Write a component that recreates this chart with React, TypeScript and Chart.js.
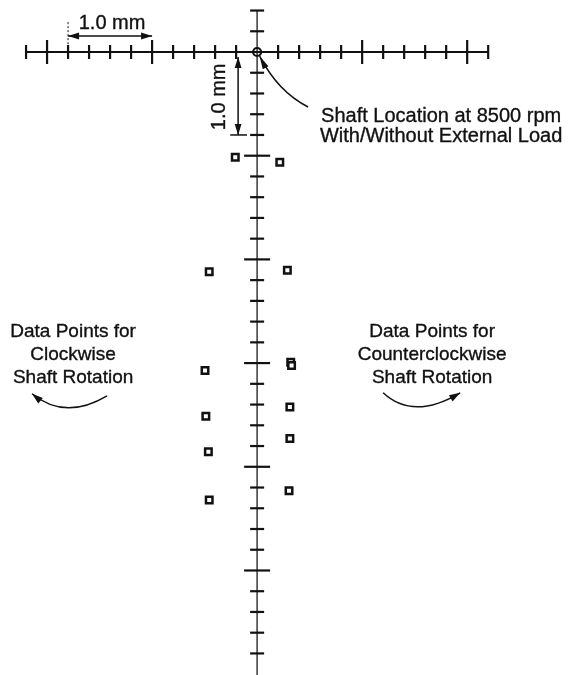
import React, { useEffect, useRef } from "react";
import { Chart, registerables } from "chart.js";

Chart.register(...registerables);

// Data points (mm, origin = shaft centre at rest, y negative = downward)
const cwX = [-0.26, -0.57, -0.62, -0.61, -0.58, -0.57];
const cwY = [-1.27, -2.65, -3.84, -4.39, -4.82, -5.40];
const ccwX = [0.27, 0.36, 0.40, 0.41, 0.39, 0.39, 0.38];
const ccwY = [-1.33, -2.63, -3.74, -3.78, -4.28, -4.66, -5.29];

// Axis ticks (mm)
const hMinorTicks = [-2.25, -2.0, -1.75, -1.5, -1.0, -0.75, -0.5, -0.25, 0.25, 0.5, 0.75, 1.0, 1.5, 1.75, 2.0, 2.25];
const hMajorTicks = [-2.5, -1.25, 1.25, 2.5];
const hEnds = [-2.75, 2.75];
const vMinorTicks = [0.25, -0.25, -0.5, -0.75, -1.0, -1.5, -1.75, -2.0, -2.25, -2.75, -3.0, -3.25, -3.5, -4.0, -4.25, -4.5, -4.75, -5.25, -5.5, -5.75, -6.0, -6.5, -6.75, -7.0, -7.25];
const vMajorTicks = [-1.25, -2.5, -3.75, -5.0, -6.25];
const vTop = 0.5;

const X_MIN = -3.06;
const X_MAX = 3.70;
const Y_MIN = -7.51;
const Y_MAX = 0.627;

const FONT_BIG = '20px "Liberation Sans", Arial, sans-serif';
const FONT = '19px "Liberation Sans", Arial, sans-serif';

const overlayPlugin = {
  id: "overlay",
  beforeDatasetsDraw(chart: any) {
    const ctx = chart.ctx;
    const xs = chart.scales.x;
    const ys = chart.scales.y;
    const px = (v: number) => xs.getPixelForValue(v);
    const py = (v: number) => ys.getPixelForValue(v);
    const ox = px(0);
    const oy = py(0);

    ctx.save();
    // vertical axis
    ctx.strokeStyle = "#444";
    ctx.lineWidth = 1.6;
    ctx.beginPath();
    ctx.moveTo(ox, py(vTop));
    ctx.lineTo(ox, py(Y_MIN));
    ctx.stroke();
    // horizontal axis
    ctx.strokeStyle = "#111";
    ctx.lineWidth = 2;
    ctx.beginPath();
    ctx.moveTo(px(hEnds[0]), oy);
    ctx.lineTo(px(hEnds[1]), oy);
    ctx.stroke();

    ctx.strokeStyle = "#111";
    ctx.lineWidth = 2.2;
    const hTick = (v: number, h: number) => {
      ctx.beginPath();
      ctx.moveTo(px(v), oy - h);
      ctx.lineTo(px(v), oy + h);
      ctx.stroke();
    };
    const vTick = (v: number, h: number) => {
      ctx.beginPath();
      ctx.moveTo(ox - h, py(v));
      ctx.lineTo(ox + h, py(v));
      ctx.stroke();
    };
    hMinorTicks.forEach((v) => hTick(v, 7));
    hMajorTicks.forEach((v) => hTick(v, 12));
    hEnds.forEach((v) => hTick(v, 7));
    vMinorTicks.forEach((v) => vTick(v, 7));
    vMajorTicks.forEach((v) => vTick(v, 13));
    vTick(vTop, 7);

    // origin circle
    ctx.lineWidth = 2.2;
    ctx.beginPath();
    ctx.arc(ox, oy, 4, 0, Math.PI * 2);
    ctx.stroke();

    const arrowHead = (tx: number, ty: number, ang: number, len = 11, hw = 3.4) => {
      ctx.beginPath();
      ctx.moveTo(tx, ty);
      ctx.lineTo(tx - len * Math.cos(ang) + hw * Math.sin(ang), ty - len * Math.sin(ang) - hw * Math.cos(ang));
      ctx.lineTo(tx - len * Math.cos(ang) - hw * Math.sin(ang), ty - len * Math.sin(ang) + hw * Math.cos(ang));
      ctx.closePath();
      ctx.fill();
    };
    ctx.fillStyle = "#111";
    ctx.lineWidth = 1.5;

    // horizontal 1.0 mm dimension
    const dy = py(0.193);
    ctx.beginPath();
    ctx.moveTo(px(-2.25), dy);
    ctx.lineTo(px(-1.25), dy);
    ctx.stroke();
    arrowHead(px(-2.25), dy, Math.PI);
    arrowHead(px(-1.25), dy, 0);
    ctx.setLineDash([2, 2]);
    ctx.lineWidth = 1;
    ctx.beginPath();
    ctx.moveTo(px(-2.25), py(0.36));
    ctx.lineTo(px(-2.25), oy);
    ctx.stroke();
    ctx.setLineDash([]);
    ctx.lineWidth = 1.5;

    // vertical 1.0 mm dimension
    const dx = px(-0.226);
    ctx.beginPath();
    ctx.moveTo(dx, py(-0.06));
    ctx.lineTo(dx, py(-1.0));
    ctx.stroke();
    arrowHead(dx, py(-0.06), -Math.PI / 2);
    arrowHead(dx, py(-1.0), Math.PI / 2);
    ctx.beginPath();
    ctx.moveTo(px(-0.32), py(-1.0));
    ctx.lineTo(px(-0.12), py(-1.0));
    ctx.stroke();

    // leader from origin
    const lsx = px(0.03), lsy = py(-0.05);
    const lcx = px(0.25), lcy = py(-0.48);
    const lex = px(0.607), ley = py(-0.663);
    ctx.beginPath();
    ctx.moveTo(lsx, lsy);
    ctx.quadraticCurveTo(lcx, lcy, lex, ley);
    ctx.stroke();
    arrowHead(lsx, lsy, Math.atan2(lsy - lcy, lsx - lcx), 13, 3.2);

    // rotation arcs
    const arc = (s: number[], c: number[], e: number[]) => {
      const sx = px(s[0]), sy = py(s[1]);
      const cx = px(c[0]), cy = py(c[1]);
      const ex = px(e[0]), ey = py(e[1]);
      ctx.beginPath();
      ctx.moveTo(sx, sy);
      ctx.quadraticCurveTo(cx, cy, ex, ey);
      ctx.stroke();
      arrowHead(ex, ey, Math.atan2(ey - cy, ex - cx), 11, 3.6);
    };
    arc([-1.786, -4.145], [-2.286, -4.446], [-2.679, -4.12]);
    arc([1.5, -4.108], [1.857, -4.446], [2.417, -4.108]);

    // texts
    ctx.fillStyle = "#111";
    ctx.strokeStyle = "#111";
    ctx.lineWidth = 0.35;
    ctx.textAlign = "center";
    ctx.textBaseline = "middle";
    const text = (t: string, x: number, y: number) => {
      ctx.fillText(t, x, y);
      ctx.strokeText(t, x, y);
    };
    ctx.font = FONT_BIG;
    text("1.0 mm", px(-1.726), py(0.349));
    text("Shaft Location at 8500 rpm", px(2.19), py(-0.783));
    text("With/Without External Load", px(2.19), py(-1.024));
    ctx.font = FONT;
    ["Data Points for", "Clockwise", "Shaft Rotation"].forEach((t, i) =>
      text(t, px(-2.19), py([-3.373, -3.651, -3.928][i]))
    );
    ["Data Points for", "Counterclockwise", "Shaft Rotation"].forEach((t, i) =>
      text(t, px(2.083), py([-3.373, -3.651, -3.928][i]))
    );
    ctx.font = FONT_BIG;
    ctx.save();
    ctx.translate(px(-0.452), py(-0.54));
    ctx.rotate(-Math.PI / 2);
    text("1.0 mm", 0, 0);
    ctx.restore();

    ctx.restore();
  },
};

export default function App() {
  const ref = useRef<HTMLCanvasElement | null>(null);
  useEffect(() => {
    if (!ref.current) return;
    const chart = new Chart(ref.current, {
      type: "scatter",
      data: {
        datasets: [
          {
            label: "Clockwise",
            data: cwX.map((x, i) => ({ x, y: cwY[i] })),
            pointStyle: "rect",
            pointRadius: 4.6,
            borderWidth: 2.5,
            borderColor: "#111",
            backgroundColor: "#fff",
          },
          {
            label: "Counterclockwise",
            data: ccwX.map((x, i) => ({ x, y: ccwY[i] })),
            pointStyle: "rect",
            pointRadius: 4.6,
            borderWidth: 2.5,
            borderColor: "#111",
            backgroundColor: "#fff",
          },
        ],
      },
      options: {
        animation: false,
        responsive: true,
        maintainAspectRatio: false,
        layout: { padding: 0, autoPadding: false },
        clip: false,
        plugins: { legend: { display: false }, tooltip: { enabled: false } },
        scales: {
          x: { type: "linear", min: X_MIN, max: X_MAX, display: false },
          y: { type: "linear", min: Y_MIN, max: Y_MAX, display: false },
        },
      },
      plugins: [overlayPlugin],
    });
    return () => chart.destroy();
  }, []);
  return (
    <div style={{ position: "fixed", left: 0, top: 0, width: 568, height: 675, background: "#fff" }}>
      <canvas ref={ref} />
    </div>
  );
}
